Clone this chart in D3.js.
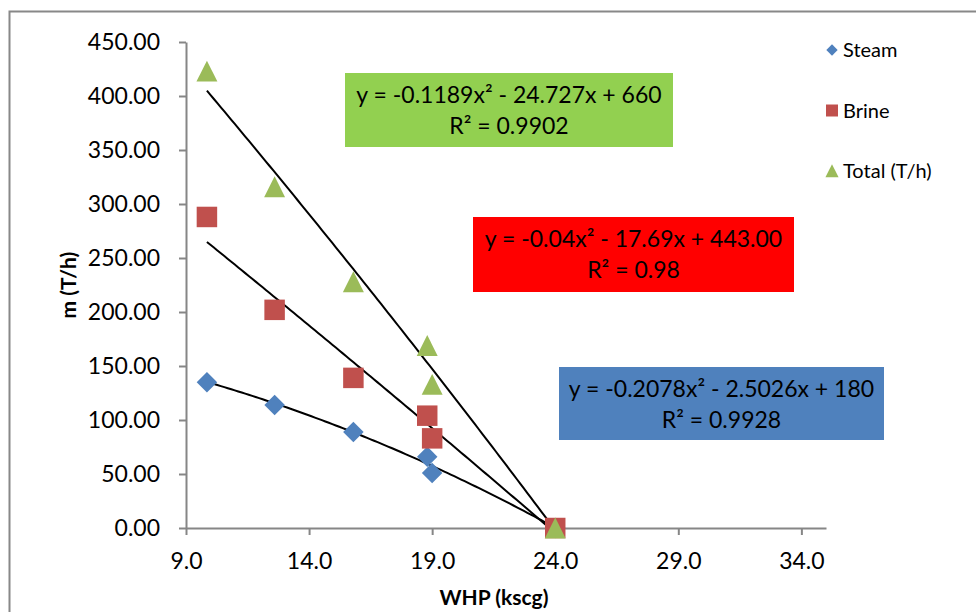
<!DOCTYPE html>
<html>
<head>
<meta charset="utf-8">
<script src="https://cdn.jsdelivr.net/npm/d3@7"></script>
<style>
  body { margin: 0; background: #fff; }
  svg { font-family: Lato, "Open Sans", sans-serif; }
</style>
</head>
<body>
<svg width="976" height="612"></svg>
<script>
// data
var whp = [9.85, 12.6, 15.8, 18.8, 19.0, 24.0];
var steam = [135, 114, 89, 66, 51, 0];
var brine = [288, 202, 139, 104, 83, 0];
var total = [423, 316, 228, 169, 133, 0];

var seriesNames = ['Steam', 'Brine', 'Total (T/h)'];
var seriesColors = ['#4F81BD', '#C0504D', '#9BBB59'];

// trendline coefficients [a, b, c] from the labels: y = a*x^2 + b*x + c
var steamFit = [-0.2078, -2.5026, 180];
var brineFit = [-0.04, -17.69, 443.00];
var totalFit = [-0.1189, -24.727, 660];

var fitLabels = [
  ['y = -0.2078x\u00B2 - 2.5026x + 180', 'R\u00B2 = 0.9928'],
  ['y = -0.04x\u00B2 - 17.69x + 443.00', 'R\u00B2 = 0.98'],
  ['y = -0.1189x\u00B2 - 24.727x + 660', 'R\u00B2 = 0.9902']
];
var boxColors = ['#4F81BD', '#FF0000', '#92D050'];

var xTicks = [9, 14, 19, 24, 29, 34];
var yTicks = [0, 50, 100, 150, 200, 250, 300, 350, 400, 450];

(function(){
var svg = d3.select('svg');

// outer chart border
svg.append('rect')
  .attr('x', 9.5).attr('y', 11.5)
  .attr('width', 1000).attr('height', 700)
  .attr('fill', 'none')
  .attr('stroke', '#888').attr('stroke-width', 2);

var pLeft = 186, pRight = 826, pTop = 42, pBottom = 528;

var x = d3.scaleLinear().domain([9, 35]).range([pLeft, pRight]);
var y = d3.scaleLinear().domain([0, 450]).range([pBottom, pTop]);

var axisColor = '#868686';

var xAxis = svg.append('g')
  .attr('transform', 'translate(0,' + pBottom + ')')
  .call(d3.axisBottom(x).tickValues(xTicks).tickSize(7).tickSizeOuter(0)
    .tickFormat(d3.format('.1f')));

var yAxis = svg.append('g')
  .attr('transform', 'translate(' + pLeft + ',0)')
  .call(d3.axisLeft(y).tickValues(yTicks).tickSize(7).tickSizeOuter(0)
    .tickFormat(d3.format('.2f')));

[xAxis, yAxis].forEach(function(g){
  g.select('.domain').attr('stroke', axisColor).attr('stroke-width', 2);
  g.selectAll('.tick line').attr('stroke', axisColor).attr('stroke-width', 2);
  g.selectAll('.tick text')
    .attr('fill', '#000')
    .style('font-size', '23px')
    .style('font-family', 'Lato, sans-serif');
});
xAxis.selectAll('.tick text').attr('y', 25).attr('dy', '0.71em');
yAxis.selectAll('.tick text').attr('x', -26);

// axis titles
svg.append('text')
  .attr('x', 494).attr('y', 605)
  .attr('text-anchor', 'middle')
  .style('font-size', '21px').style('font-weight', 'bold')
  .text('WHP (kscg)');

svg.append('text')
  .attr('transform', 'translate(76,285) rotate(-90)')
  .attr('text-anchor', 'middle')
  .style('font-size', '21px').style('font-weight', 'bold')
  .text('m (T/h)');

// trendlines
var fits = [steamFit, brineFit, totalFit];
var xs = d3.range(0, 101).map(function(i){
  return whp[0] + (whp[whp.length - 1] - whp[0]) * i / 100;
});
var line = d3.line()
  .x(function(d){ return x(d[0]); })
  .y(function(d){ return y(d[1]); });

fits.forEach(function(f){
  var pts = xs.map(function(v){ return [v, f[0]*v*v + f[1]*v + f[2]]; });
  svg.append('path')
    .attr('d', line(pts))
    .attr('fill', 'none')
    .attr('stroke', '#000')
    .attr('stroke-width', 2);
});

// markers: diamond = rotated square, triangle box-centred on the point
var allSeries = [steam, brine, total];
var shapes = [d3.symbolSquare, d3.symbolSquare, d3.symbolTriangle];
var sizes = [210, 420, 190];
var extra = [' rotate(45)', '', ' translate(0,3.5) scale(1,1.15)'];

allSeries.forEach(function(vals, s){
  svg.append('g').selectAll('path')
    .data(vals)
    .enter().append('path')
    .attr('d', d3.symbol().type(shapes[s]).size(sizes[s]))
    .attr('transform', function(d, i){
      return 'translate(' + x(whp[i]) + ',' + y(d) + ')' + extra[s];
    })
    .attr('fill', seriesColors[s]);
});

// legend
var legend = svg.append('g');
var legendSizes = [64, 144, 75];
var legendExtra = [' rotate(45)', '', ' translate(0,2) scale(1,1.15)'];
seriesNames.forEach(function(name, i){
  var ly = 50 + i * 60.5;
  legend.append('path')
    .attr('d', d3.symbol().type(shapes[i]).size(legendSizes[i])())
    .attr('transform', 'translate(832,' + ly + ')' + legendExtra[i])
    .attr('fill', seriesColors[i]);
  legend.append('text')
    .attr('x', 843).attr('y', ly + 7)
    .style('font-size', '20px')
    .text(name);
});

// equation boxes
var boxes = [
  { x0: 559, y0: 367, w: 325, h: 73 },
  { x0: 473, y0: 217, w: 321, h: 75 },
  { x0: 345, y0: 73, w: 328, h: 74 }
];
boxes.forEach(function(b, i){
  svg.append('rect')
    .attr('x', b.x0).attr('y', b.y0)
    .attr('width', b.w).attr('height', b.h)
    .attr('fill', boxColors[i]);
  fitLabels[i].forEach(function(t, j){
    svg.append('text')
      .attr('x', b.x0 + b.w / 2)
      .attr('y', b.y0 + 30 + j * 31)
      .attr('text-anchor', 'middle')
      .style('font-size', '23px')
      .text(t);
  });
});
})();
</script>
</body>
</html>
